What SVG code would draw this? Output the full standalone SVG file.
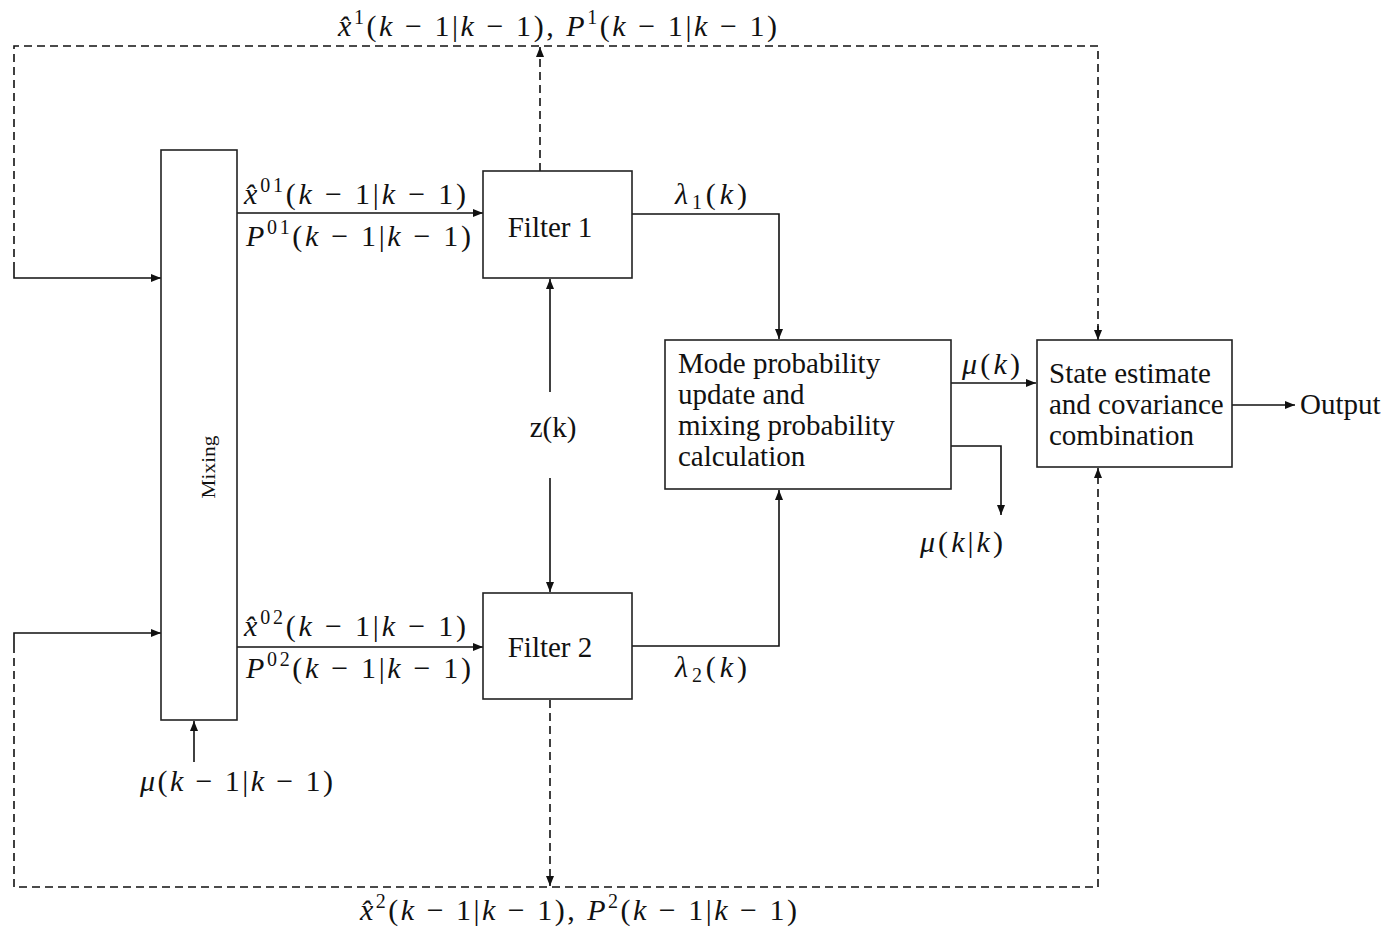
<svg xmlns="http://www.w3.org/2000/svg" width="1388" height="927" viewBox="0 0 1388 927">
<style>
.box{fill:#fff;stroke:#222;stroke-width:1.6}
.ln{fill:none;stroke:#111;stroke-width:1.6}
.dl{fill:none;stroke:#111;stroke-width:1.6;stroke-dasharray:8 5}
text{font-family:"Liberation Serif","Times New Roman",serif;font-size:29px;fill:#111}
.mt{font-size:30px}
.m{font-style:italic}
.s{font-size:20px}
</style>
<defs>
<marker id="ah" viewBox="0 0 10 8" refX="10" refY="4" markerWidth="11" markerHeight="8" markerUnits="userSpaceOnUse" orient="auto">
<path d="M0,0 L10,4 L0,8 Z" fill="#111"/>
</marker>
</defs>
<g id="connectors">
<path class="dl" d="M14,270 V46 H1098 V330"/>
<path class="ln" d="M14,270 V278 H161" marker-end="url(#ah)"/>
<path class="dl" d="M540,171 V47" marker-end="url(#ah)"/>
<path class="dl" d="M14,645 V887 H1098 V468" marker-end="url(#ah)"/>
<path class="ln" d="M14,645 V633 H161" marker-end="url(#ah)"/>
<path class="dl" d="M550,700 V886" marker-end="url(#ah)"/>
<path class="ln" d="M1098,326 V340" marker-end="url(#ah)"/>
<path class="ln" d="M237,213 H483" marker-end="url(#ah)"/>
<path class="ln" d="M237,647 H483" marker-end="url(#ah)"/>
<path class="ln" d="M550,392 V279" marker-end="url(#ah)"/>
<path class="ln" d="M550,478 V592" marker-end="url(#ah)"/>
<path class="ln" d="M632,214 H779 V339" marker-end="url(#ah)"/>
<path class="ln" d="M632,646 H779 V490" marker-end="url(#ah)"/>
<path class="ln" d="M951,383 H1036" marker-end="url(#ah)"/>
<path class="ln" d="M951,446 H1001 V515" marker-end="url(#ah)"/>
<path class="ln" d="M1232,405 H1295" marker-end="url(#ah)"/>
<path class="ln" d="M194,762 V721" marker-end="url(#ah)"/>
</g>
<g id="mixing">
<rect class="box" x="161" y="150" width="76" height="570"/>
<text x="0" y="0" transform="translate(215,467) rotate(-90)" text-anchor="middle" textLength="63" lengthAdjust="spacingAndGlyphs" style="font-size:18px">Mixing</text>
</g>
<g id="filter1">
<rect class="box" x="483" y="171" width="149" height="107"/>
<text x="550" y="237" text-anchor="middle">Filter 1</text>
</g>
<g id="filter2">
<rect class="box" x="483" y="593" width="149" height="106"/>
<text x="550" y="657" text-anchor="middle">Filter 2</text>
</g>
<g id="mode">
<rect class="box" x="665" y="340" width="286" height="149"/>
<text x="678" y="373">Mode probability</text>
<text x="678" y="404">update and</text>
<text x="678" y="435">mixing probability</text>
<text x="678" y="466">calculation</text>
</g>
<g id="state">
<rect class="box" x="1037" y="340" width="195" height="127"/>
<text x="1049" y="383">State estimate</text>
<text x="1049" y="414">and covariance</text>
<text x="1049" y="445">combination</text>
</g>
<g id="labels">
<text class="mt" x="338" y="36" textLength="439" lengthAdjust="spacing"><tspan class="m">x̂</tspan><tspan class="s" dy="-12">1</tspan><tspan dy="12">(</tspan><tspan class="m">k</tspan> − 1|<tspan class="m">k</tspan> − 1), <tspan class="m">P</tspan><tspan class="s" dy="-12">1</tspan><tspan dy="12">(</tspan><tspan class="m">k</tspan> − 1|<tspan class="m">k</tspan> − 1)</text>
<text class="mt" x="360" y="920" textLength="437" lengthAdjust="spacing"><tspan class="m">x̂</tspan><tspan class="s" dy="-12">2</tspan><tspan dy="12">(</tspan><tspan class="m">k</tspan> − 1|<tspan class="m">k</tspan> − 1), <tspan class="m">P</tspan><tspan class="s" dy="-12">2</tspan><tspan dy="12">(</tspan><tspan class="m">k</tspan> − 1|<tspan class="m">k</tspan> − 1)</text>
<text class="mt" x="244" y="204" textLength="222" lengthAdjust="spacing"><tspan class="m">x̂</tspan><tspan class="s" dy="-12">01</tspan><tspan dy="12">(</tspan><tspan class="m">k</tspan> − 1|<tspan class="m">k</tspan> − 1)</text>
<text class="mt" x="246" y="246" textLength="225" lengthAdjust="spacing"><tspan class="m">P</tspan><tspan class="s" dy="-12">01</tspan><tspan dy="12">(</tspan><tspan class="m">k</tspan> − 1|<tspan class="m">k</tspan> − 1)</text>
<text class="mt" x="244" y="636" textLength="222" lengthAdjust="spacing"><tspan class="m">x̂</tspan><tspan class="s" dy="-12">02</tspan><tspan dy="12">(</tspan><tspan class="m">k</tspan> − 1|<tspan class="m">k</tspan> − 1)</text>
<text class="mt" x="246" y="678" textLength="225" lengthAdjust="spacing"><tspan class="m">P</tspan><tspan class="s" dy="-12">02</tspan><tspan dy="12">(</tspan><tspan class="m">k</tspan> − 1|<tspan class="m">k</tspan> − 1)</text>
<text class="mt" x="675" y="204" textLength="72" lengthAdjust="spacing"><tspan class="m">λ</tspan><tspan class="s" dy="5">1</tspan><tspan dy="-5">(</tspan><tspan class="m">k</tspan>)</text>
<text class="mt" x="675" y="677" textLength="72" lengthAdjust="spacing"><tspan class="m">λ</tspan><tspan class="s" dy="5">2</tspan><tspan dy="-5">(</tspan><tspan class="m">k</tspan>)</text>
<text x="553" y="437" text-anchor="middle">z(k)</text>
<text class="mt" x="962" y="374" textLength="58" lengthAdjust="spacing"><tspan class="m">μ</tspan>(<tspan class="m">k</tspan>)</text>
<text class="mt" x="920" y="552" textLength="83" lengthAdjust="spacing"><tspan class="m">μ</tspan>(<tspan class="m">k</tspan>|<tspan class="m">k</tspan>)</text>
<text class="mt" x="140" y="791" textLength="193" lengthAdjust="spacing"><tspan class="m">μ</tspan>(<tspan class="m">k</tspan> − 1|<tspan class="m">k</tspan> − 1)</text>
<text x="1300" y="414">Output</text>
</g>
</svg>
